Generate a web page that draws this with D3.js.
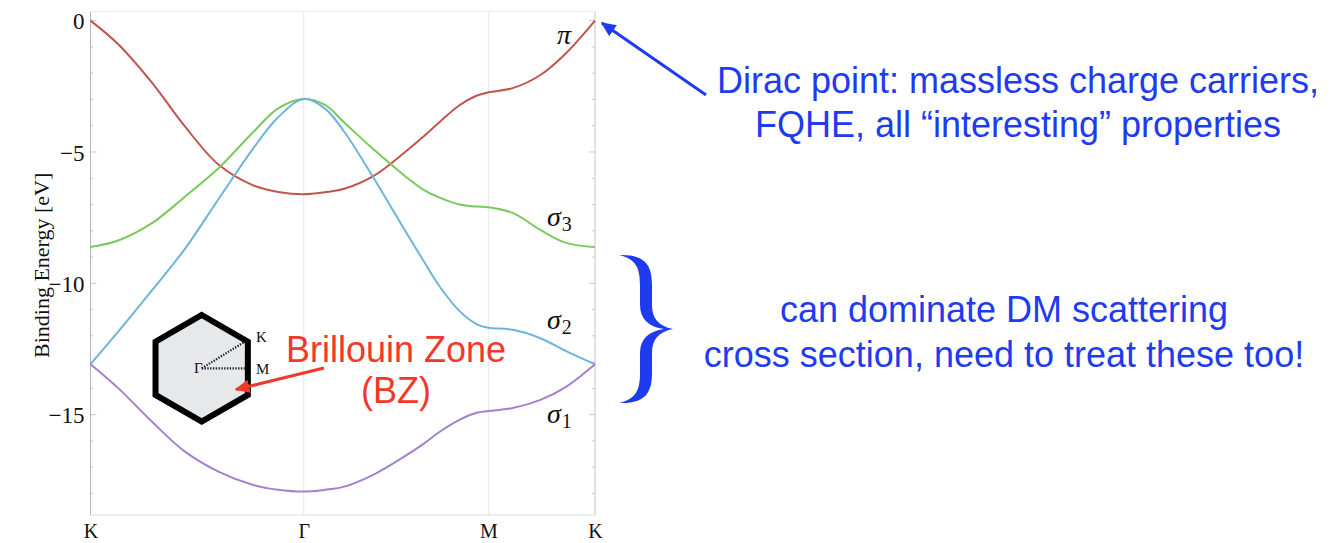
<!DOCTYPE html>
<html>
<head>
<meta charset="utf-8">
<script src="https://cdn.jsdelivr.net/npm/d3@7"></script>
<style>
  html, body { margin: 0; padding: 0; background: #fff; }
  svg { display: block; }
</style>
</head>
<body>
<svg id="chart" width="1331" height="543"></svg>
<script>
// Graphene band structure along the K–Γ–M–K path (binding energy in eV)
const kPath  = [0, 0.13, 0.29, 0.44, 0.60, 0.76, 0.88, 1.00, 1.10, 1.19, 1.33, 1.48, 1.56, 1.64, 1.73, 1.81, 1.866, 1.98, 2.11, 2.23, 2.366];
const piBand = [0, -0.90, -2.38, -4.00, -5.48, -6.26, -6.52, -6.61, -6.53, -6.40, -5.90, -4.97, -4.42, -3.84, -3.22, -2.86, -2.73, -2.57, -2.07, -1.24, 0];
const sigma3 = [-8.62, -8.37, -7.70, -6.72, -5.62, -4.27, -3.34, -2.98, -3.21, -3.88, -4.92, -5.95, -6.43, -6.75, -7.00, -7.08, -7.10, -7.32, -7.97, -8.46, -8.62];
const sigma2 = [-13.08, -11.84, -10.25, -8.72, -6.80, -4.90, -3.68, -2.98, -3.35, -4.23, -6.02, -8.06, -9.12, -10.15, -11.05, -11.55, -11.69, -11.77, -12.09, -12.58, -13.08];
const sigma1 = [-13.08, -13.99, -15.28, -16.39, -17.17, -17.67, -17.86, -17.93, -17.86, -17.74, -17.27, -16.55, -16.12, -15.64, -15.20, -14.93, -14.86, -14.75, -14.44, -13.94, -13.08];

// High-symmetry points and energy ticks
const symPoints = [0, 1, 1.866, 2.366];
const symLabels = ["K", "Γ", "M", "K"];
const energyTicks = [0, -5, -10, -15];
const energyDomain = [-18.82, 0.34];

const bands = [
  { name: "pi",     values: piBand, color: "#c0554f" },
  { name: "sigma3", values: sigma3, color: "#7bc95c" },
  { name: "sigma2", values: sigma2, color: "#6db5d8" },
  { name: "sigma1", values: sigma1, color: "#a480cf" }
];

const svg = d3.select("#chart");
const serif = "'Liberation Serif', 'DejaVu Serif', serif";
const sans = "'Liberation Sans', Arial, sans-serif";

const x = d3.scaleLinear().domain([0, d3.max(symPoints)]).range([90.5, 595]);
const y = d3.scaleLinear().domain(energyDomain).range([515, 11.7]);

const plot = svg.append("g");

// vertical guides at the interior symmetry points
plot.selectAll("line.guide")
  .data(symPoints.slice(1, -1))
  .join("line")
  .attr("class", "guide")
  .attr("x1", d => x(d)).attr("x2", d => x(d))
  .attr("y1", y.range()[1]).attr("y2", y.range()[0])
  .attr("stroke", "#e6e6e6").attr("stroke-width", 1);

// frame
const [x0, x1] = x.range();
const [yb, yt] = y.range();
plot.append("line").attr("x1", x0).attr("x2", x1).attr("y1", yt).attr("y2", yt)
  .attr("stroke", "#ebebeb").attr("stroke-width", 1);
plot.append("line").attr("x1", x1).attr("x2", x1).attr("y1", yt).attr("y2", yb)
  .attr("stroke", "#c4c4c4").attr("stroke-width", 1);
plot.append("line").attr("x1", x0).attr("x2", x1).attr("y1", yb).attr("y2", yb)
  .attr("stroke", "#dcdcdc").attr("stroke-width", 1);
plot.append("line").attr("x1", x0).attr("x2", x0).attr("y1", yt).attr("y2", yb)
  .attr("stroke", "#b4b4b4").attr("stroke-width", 1);

// minor and major ticks on left and right frame edges
const minorTicks = d3.range(-18, 1);
[x0, x1].forEach((xe, i) => {
  const dir = i === 0 ? 1 : -1;
  plot.selectAll(null).data(minorTicks).join("line")
    .attr("x1", xe).attr("x2", d => xe + dir * (d % 5 === 0 ? 6 : 3))
    .attr("y1", d => y(d)).attr("y2", d => y(d))
    .attr("stroke", "#c8c8c8").attr("stroke-width", 1);
});

// left tick labels
const yAxis = d3.axisLeft(y).tickValues(energyTicks).tickSize(0).tickPadding(0)
  .tickFormat(d => d === 0 ? "0" : "\u2212" + Math.abs(d));
const yAxisG = svg.append("g").attr("transform", `translate(${x0 - 6},0)`).call(yAxis);
yAxisG.select(".domain").remove();
yAxisG.selectAll("text")
  .attr("font-family", serif).attr("font-size", 23).attr("fill", "#111")
  .attr("dy", "0.35em");

// bottom labels at symmetry points
const xAxis = d3.axisBottom(x).tickValues(symPoints).tickSize(0).tickPadding(0)
  .tickFormat((d, i) => symLabels[i]);
const xAxisG = svg.append("g").attr("transform", `translate(0,${yb})`).call(xAxis);
xAxisG.select(".domain").remove();
xAxisG.selectAll("text")
  .attr("font-family", serif).attr("font-size", 20).attr("fill", "#111")
  .attr("dy", null).attr("y", 23);

// y-axis title
svg.append("text")
  .attr("transform", `translate(49,${(yb + yt) / 2 + 2}) rotate(-90)`)
  .attr("text-anchor", "middle")
  .attr("font-family", serif).attr("font-size", 22).attr("fill", "#111")
  .text("Binding Energy [eV]");

// band curves
const line = d3.line()
  .x((d, i) => x(kPath[i]))
  .y(d => y(d))
  .curve(d3.curveCatmullRom.alpha(0.5));

plot.selectAll("path.band")
  .data(bands)
  .join("path")
  .attr("class", "band")
  .attr("d", d => line(d.values))
  .attr("fill", "none")
  .attr("stroke", d => d.color)
  .attr("stroke-width", 2);

// band labels
function bandLabel(px, py, main, sub) {
  const t = svg.append("text").attr("x", px).attr("y", py)
    .attr("font-family", serif).attr("fill", "#111");
  t.append("tspan").attr("font-style", "italic").attr("font-size", 28).text(main);
  if (sub) t.append("tspan").attr("font-size", 20).attr("dy", 5).attr("dx", 1).text(sub);
}
bandLabel(557, 44, "π");
bandLabel(547, 226, "σ", "3");
bandLabel(547, 329, "σ", "2");
bandLabel(547, 423, "σ", "1");

// Brillouin zone inset: hexagon with Γ–K and Γ–M paths
const hc = [201.7, 368.3], hr = 53.3;
const hex = d3.range(6).map(i => {
  const a = -Math.PI / 2 + i * Math.PI / 3;
  return [hc[0] + hr * Math.cos(a), hc[1] + hr * Math.sin(a)];
});
svg.append("path")
  .attr("d", "M" + hex.map(p => p.join(",")).join("L") + "Z")
  .attr("fill", "#e7e8ea").attr("stroke", "#000").attr("stroke-width", 6)
  .attr("stroke-linejoin", "miter");
const kVertex = hex[1];
const mMid = [(hex[1][0] + hex[2][0]) / 2, (hex[1][1] + hex[2][1]) / 2];
[kVertex, mMid].forEach(p => {
  svg.append("line")
    .attr("x1", hc[0]).attr("y1", hc[1]).attr("x2", p[0] - 3).attr("y2", p[1])
    .attr("stroke", "#222").attr("stroke-width", 2.2).attr("stroke-dasharray", "1.4,1.4");
});
svg.append("text").attr("x", hc[0] + 1).attr("y", hc[1] + 5).attr("text-anchor", "end")
  .attr("font-family", serif).attr("font-size", 15).attr("fill", "#111").text("Γ");
svg.append("text").attr("x", 256).attr("y", 342).attr("font-family", serif)
  .attr("font-size", 15).attr("fill", "#111").text("K");
svg.append("text").attr("x", 256).attr("y", 374).attr("font-family", serif)
  .attr("font-size", 15).attr("fill", "#111").text("M");

// arrow markers
const defs = svg.append("defs");
function marker(id, color) {
  defs.append("marker").attr("id", id)
    .attr("viewBox", "0 0 10 10").attr("refX", 9).attr("refY", 5)
    .attr("markerWidth", 5).attr("markerHeight", 5).attr("orient", "auto")
    .attr("markerUnits", "strokeWidth")
    .append("path").attr("d", "M0,0.5 L10,5 L0,9.5 Z").attr("fill", color);
}
const red = "#f0392b", blue = "#1f3bf0";
marker("headRed", red);
marker("headBlue", blue);

// Brillouin zone annotation
svg.append("line").attr("x1", 324).attr("y1", 368).attr("x2", 236).attr("y2", 389.5)
  .attr("stroke", red).attr("stroke-width", 3).attr("marker-end", "url(#headRed)");
svg.append("text").attr("x", 396).attr("y", 362).attr("text-anchor", "middle")
  .attr("font-family", sans).attr("font-size", 36).attr("fill", red).text("Brillouin Zone");
svg.append("text").attr("x", 396).attr("y", 403).attr("text-anchor", "middle")
  .attr("font-family", sans).attr("font-size", 36).attr("fill", red).text("(BZ)");

// Dirac point annotation
svg.append("line").attr("x1", 706).attr("y1", 95).attr("x2", 602).attr("y2", 23)
  .attr("stroke", blue).attr("stroke-width", 3).attr("marker-end", "url(#headBlue)");
const noteFont = 36;
svg.append("text").attr("x", 1018).attr("y", 93).attr("text-anchor", "middle")
  .attr("font-family", sans).attr("font-size", noteFont).attr("fill", blue)
  .text("Dirac point: massless charge carriers,");
svg.append("text").attr("x", 1018).attr("y", 137).attr("text-anchor", "middle")
  .attr("font-family", sans).attr("font-size", noteFont).attr("fill", blue)
  .text("FQHE, all \u201Cinteresting\u201D properties");

// sigma-band annotation with brace
svg.append("path")
  .attr("d", "M619,255 C646,254 652,266 652,285 L652,305 C652,318 658,326 673,329 " +
             "C658,332 652,340 652,353 L652,373 C652,392 646,404 619,403 " +
             "C636,399 640,390 640,373 L640,353 C640,339 649,331 664,329 " +
             "C649,327 640,319 640,305 L640,285 C640,268 636,259 619,255 Z")
  .attr("fill", blue);
svg.append("text").attr("x", 1004).attr("y", 322).attr("text-anchor", "middle")
  .attr("font-family", sans).attr("font-size", noteFont).attr("fill", blue)
  .text("can dominate DM scattering");
svg.append("text").attr("x", 1004).attr("y", 367).attr("text-anchor", "middle")
  .attr("font-family", sans).attr("font-size", noteFont).attr("fill", blue)
  .text("cross section, need to treat these too!");
</script>
</body>
</html>
